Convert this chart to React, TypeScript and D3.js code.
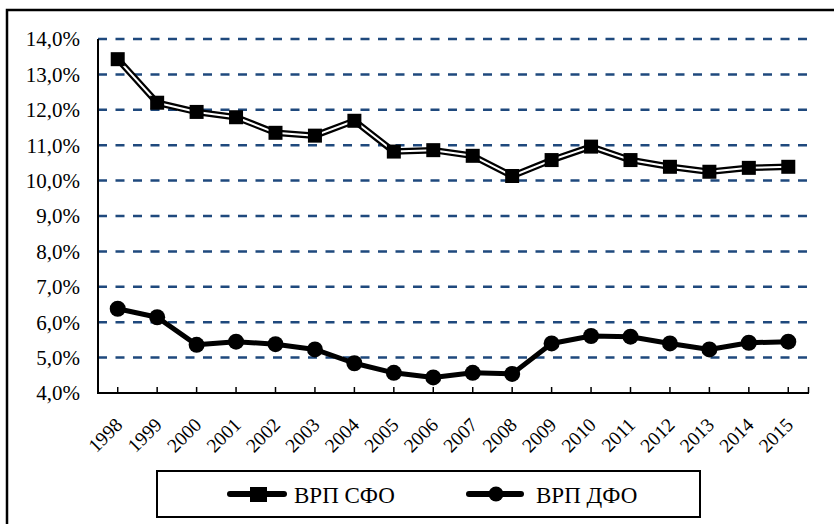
import React from 'react';
import * as d3 from 'd3';

// years on x axis
const years = ['1998', '1999', '2000', '2001', '2002', '2003', '2004', '2005', '2006',
  '2007', '2008', '2009', '2010', '2011', '2012', '2013', '2014', '2015'];
// ВРП СФО, %
const sfo = [13.43, 12.2, 11.94, 11.79, 11.35, 11.27, 11.69, 10.82, 10.86,
  10.7, 10.13, 10.58, 10.96, 10.58, 10.39, 10.25, 10.36, 10.39];
// ВРП ДФО, %
const dfo = [6.38, 6.14, 5.36, 5.45, 5.38, 5.23, 4.84, 4.57, 4.44,
  4.57, 4.54, 5.4, 5.61, 5.59, 5.4, 5.23, 5.42, 5.45];
const yTicks = [4, 5, 6, 7, 8, 9, 10, 11, 12, 13, 14];
const seriesNames = ['ВРП СФО', 'ВРП ДФО'];

const W = 834;
const H = 524;
const FONT = "'Liberation Serif', 'DejaVu Serif', serif";
const GRID = '#1F497D';

const App = () => {
  /* plot area */
  const left = 98, right = 808, top = 39, bottom = 393;
  const x = d3.scaleBand<string>().domain(years).range([left, right]);
  const y = d3.scaleLinear().domain([4, 14]).range([bottom, top]);
  const cx = (yr: string) => (x(yr) as number) + x.bandwidth() / 2;

  const line = d3.line<number>()
    .x((_, i) => cx(years[i]))
    .y(v => y(v));

  const fmt = (v: number) => v.toFixed(1).replace('.', ',') + '%';

  return (
    <svg width={W} height={H}
      style={{ position: 'absolute', left: 0, top: 0, background: '#fff', fontFamily: FONT }}>
      {/* outer border, clipped on right/bottom like the source */}
      <rect x={7} y={10} width={840} height={530} fill='none' stroke='#000' strokeWidth={2.5} />

      {/* gridlines */}
      {yTicks.filter(t => t > 4).map(t => (
        <line key={t} x1={left} x2={right} y1={y(t)} y2={y(t)}
          stroke={GRID} strokeWidth={2.5} strokeDasharray='9 8.5' />
      ))}

      {/* y labels */}
      {yTicks.map(t => (
        <text key={t} x={80} y={y(t)} dy='0.35em' textAnchor='end' fontSize={21} fill='#000'>{fmt(t)}</text>
      ))}

      {/* axes */}
      <line x1={left} x2={left} y1={top} y2={bottom + 1} stroke='#000' strokeWidth={2} />
      <line x1={left - 1} x2={right + 1} y1={bottom} y2={bottom} stroke='#000' strokeWidth={2} />
      {years.map(yr => (
        <line key={yr} x1={cx(yr)} x2={cx(yr)} y1={bottom} y2={bottom - 6} stroke='#000' strokeWidth={1.5} />
      ))}
      <line x1={right + 0.5} x2={right + 0.5} y1={bottom} y2={bottom - 6} stroke='#000' strokeWidth={1.5} />

      {/* x labels */}
      {years.map(yr => (
        <text key={yr} transform={`translate(${cx(yr) + 6},${bottom + 33}) rotate(-45)`}
          textAnchor='end' fontSize={19.5} fill='#000'>{yr}</text>
      ))}

      {/* СФО: double line */}
      <path d={line(sfo) || ''} fill='none' stroke='#000' strokeWidth={6.5} strokeLinejoin='round' />
      <path d={line(sfo) || ''} fill='none' stroke='#fff' strokeWidth={2} strokeLinejoin='round' />
      {sfo.map((v, i) => (
        <rect key={i} x={cx(years[i]) - 7} y={y(v) - 7} width={14} height={14} fill='#000' />
      ))}

      {/* ДФО */}
      <path d={line(dfo) || ''} fill='none' stroke='#000' strokeWidth={5} strokeLinejoin='round' />
      {dfo.map((v, i) => (
        <circle key={i} cx={cx(years[i])} cy={y(v)} r={8} fill='#000' />
      ))}

      {/* legend */}
      <rect x={157} y={471} width={543} height={46} fill='#fff' stroke='#000' strokeWidth={2} />
      <line x1={230} x2={284} y1={494} y2={494} stroke='#000' strokeWidth={6} strokeLinecap='round' />
      <rect x={250} y={487} width={17} height={15} fill='#000' />
      <text x={294} y={503} fontSize={23} fill='#000'>{seriesNames[0]}</text>
      <line x1={469} x2={521} y1={494} y2={494} stroke='#000' strokeWidth={6} strokeLinecap='round' />
      <circle cx={496} cy={494} r={7.5} fill='#000' />
      <text x={536} y={503} fontSize={23} fill='#000'>{seriesNames[1]}</text>
    </svg>
  );
};

export default App;
